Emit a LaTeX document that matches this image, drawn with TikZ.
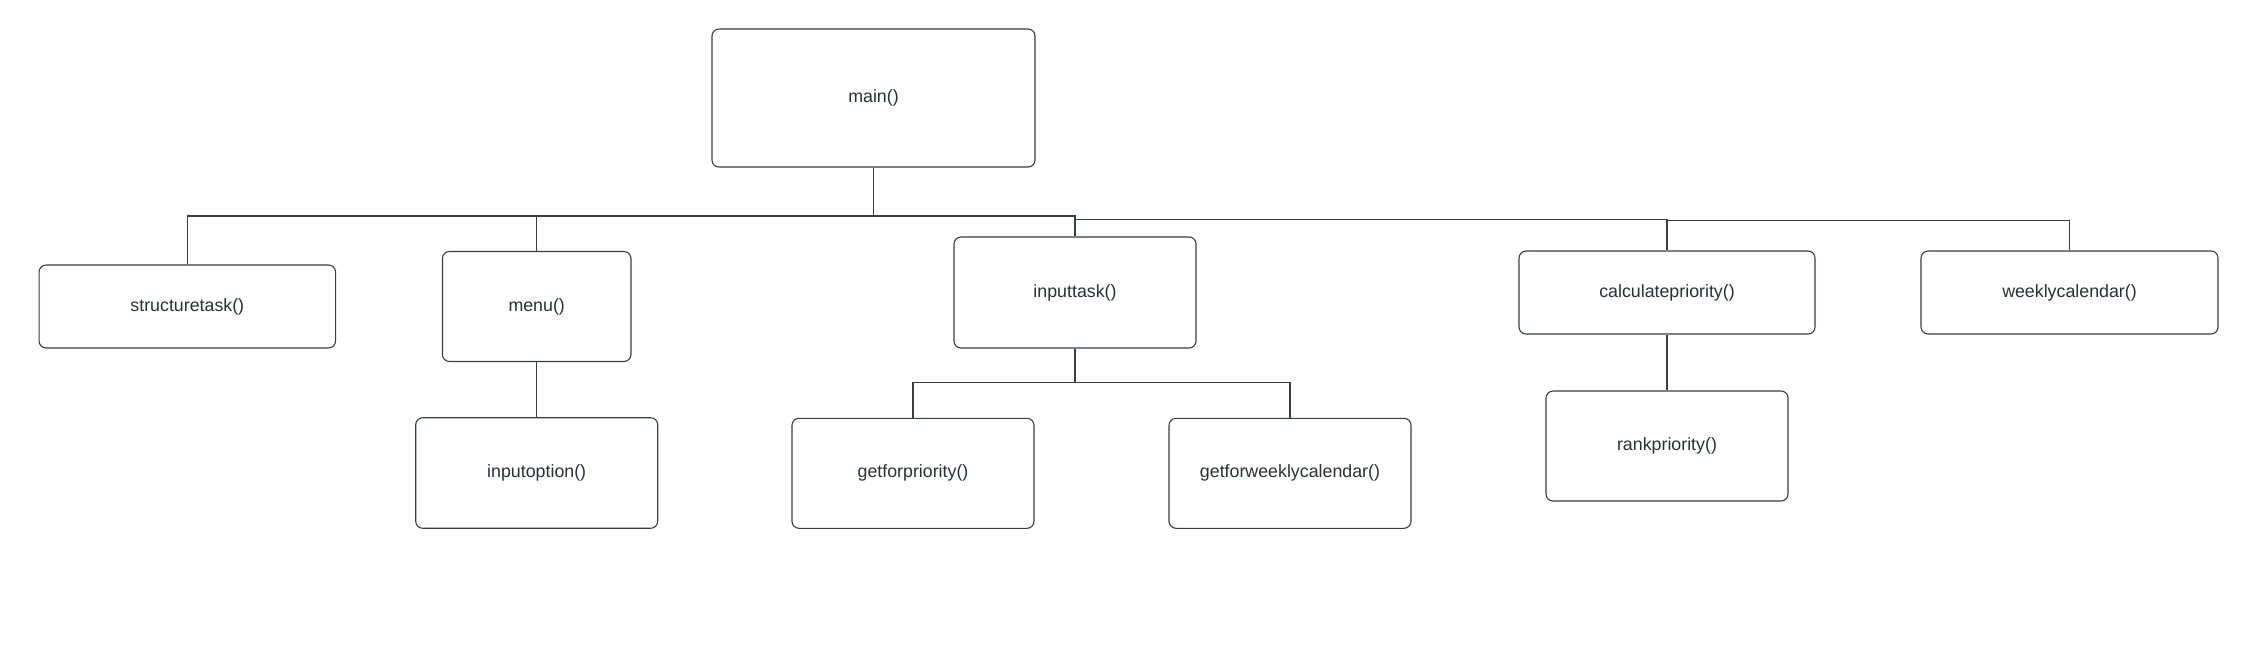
\documentclass[tikz,border=0pt]{standalone}
\usepackage{fontspec}
\setmainfont{Liberation Sans}
\definecolor{ln}{HTML}{3A3D44}
\definecolor{tx}{HTML}{2B2F36}
\begin{document}
\begin{tikzpicture}[x=1pt,y=-1pt,
  fbox/.style={draw=ln, line width=1.1pt, rounded corners=7pt, fill=white, text=tx,
    font=\fontsize{17.8}{20}\selectfont, inner sep=0pt},
  link/.style={draw=ln, line width=1.1pt}]
\useasboundingbox[fill=white] (0,0) rectangle (2255,649);
% boxes
\node[fbox, minimum width=323pt, minimum height=138pt] (main) at (873.5,98) {main()};
\node[fbox, minimum width=296.5pt, minimum height=83pt] (stask) at (187.3,306.5) {structuretask()};
\node[fbox, minimum width=188.5pt, minimum height=110pt] (menu) at (536.7,306.5) {menu()};
\node[fbox, minimum width=242pt, minimum height=111pt] (itask) at (1075,292.5) {inputtask()};
\node[fbox, minimum width=296pt, minimum height=83pt] (calc) at (1667,292.5) {calculatepriority()};
\node[fbox, minimum width=297pt, minimum height=83pt] (weekly) at (2069.5,292.5) {weeklycalendar()};
\node[fbox, minimum width=242pt, minimum height=110.5pt] (inopt) at (536.7,473) {inputoption()};
\node[fbox, minimum width=242pt, minimum height=110pt] (gfp) at (913,473.3) {getforpriority()};
\node[fbox, minimum width=242pt, minimum height=110pt] (gfw) at (1290,473.3) {getforweeklycalendar()};
\node[fbox, minimum width=242pt, minimum height=110pt] (rank) at (1667,446) {rankpriority()};
% helper levels
\coordinate (hL) at (0,216);
\coordinate (hR) at (0,219.5);
\coordinate (hR2) at (0,220.5);
\coordinate (hI) at (0,382.5);
% connectors
\draw[link] (main.south) -- (main.south |- hL);
\draw[link] (stask.north) |- (main.south |- hL) -| (itask.north);
\draw[link] (menu.north) -- (menu.north |- hL);
\draw[link] (itask.north |- hR) -| (calc.north);
\draw[link] (calc.north |- hR2) -| (weekly.north);
\draw[link] (menu.south) -- (inopt.north);
\draw[link] (itask.south) -- (itask.south |- hI);
\draw[link] (gfp.north) |- (itask.south |- hI) -| (gfw.north);
\draw[link] (calc.south) -- (rank.north);
\end{tikzpicture}
\end{document}
